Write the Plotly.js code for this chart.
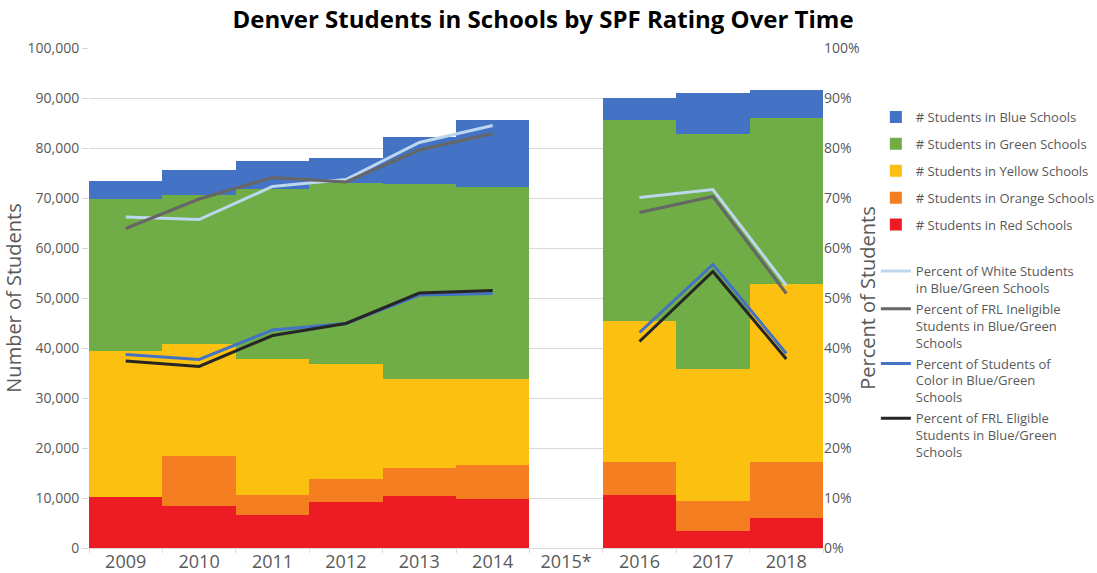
<!DOCTYPE html>
<html><head><meta charset="utf-8">
<script src="https://cdn.plot.ly/plotly-3.0.1.min.js"></script>
<style>html,body{margin:0;padding:0;background:#fff}#chart{width:1097px;height:573px}</style>
</head><body><div id="chart"></div>
<script>
const years = ["2009","2010","2011","2012","2013","2014","2015*","2016","2017","2018"];
const redStudents    = [10300, 8400, 6700, 9300, 10500, 9900, null, 10600, 3400, 6100];
const orangeStudents = [0, 10100, 4000, 4600, 5600, 6700, null, 6600, 6100, 11100];
const yellowStudents = [29200, 22400, 27100, 23000, 17700, 17300, null, 28300, 26400, 35600];
const greenStudents  = [30300, 29800, 34100, 36100, 39000, 38400, null, 40100, 46900, 33300];
const blueStudents   = [3600, 4900, 5600, 5100, 9400, 13300, null, 4500, 8200, 5600];
const pctWhite       = [0.662, 0.657, 0.723, 0.737, 0.811, 0.845, null, 0.701, 0.717, 0.525];
const pctFrlInel     = [0.639, 0.698, 0.741, 0.732, 0.796, 0.829, null, 0.671, 0.703, 0.509];
const pctColor       = [0.387, 0.377, 0.436, 0.449, 0.506, 0.509, null, 0.431, 0.567, 0.389];
const pctFrlElig     = [0.374, 0.363, 0.425, 0.449, 0.510, 0.515, null, 0.413, 0.553, 0.378];

const gray = "#595959";
const font = "'Open Sans', Lato, sans-serif";
function bar(name, y, color, rank){
  return {type:"bar", name:name, x:years, y:y, marker:{color:color, line:{width:0}},
    legend:"legend", legendgroup:name, legendrank:rank, hoverinfo:"y+name"};
}
function line(name, y, color, rank){
  return {type:"scatter", mode:"lines", name:name, x:years, y:y, yaxis:"y2",
    line:{color:color, width:3}, connectgaps:false, legend:"legend2", legendgroup:name, legendrank:rank};
}
const traces = [
  bar("# Students in Red Schools", redStudents, "#ED1C24", 5),
  bar("# Students in Orange Schools", orangeStudents, "#F47E20", 4),
  bar("# Students in Yellow Schools", yellowStudents, "#FCC010", 3),
  bar("# Students in Green Schools", greenStudents, "#70AD47", 2),
  bar("# Students in Blue Schools", blueStudents, "#4472C4", 1),
  line("Percent of White Students<br>in Blue/Green Schools", pctWhite, "#BDD7EE", 1),
  line("Percent of FRL Ineligible<br>Students in Blue/Green<br>Schools", pctFrlInel, "#666666", 2),
  line("Percent of Students of<br>Color in Blue/Green<br>Schools", pctColor, "#4472C4", 3),
  line("Percent of FRL Eligible<br>Students in Blue/Green<br>Schools", pctFrlElig, "#262626", 4)
];
const layout = {
  width:1097, height:573,
  margin:{l:89, r:274, t:48, b:25, autoexpand:false},
  paper_bgcolor:"#fff", plot_bgcolor:"#fff",
  font:{family:font, color:gray},
  title:{text:"<b>Denver Students in Schools by SPF Rating Over Time</b>", font:{family:font, size:24, color:"#000"},
    xref:"container", x:0.495, xanchor:"center", yref:"container", y:0.966, yanchor:"middle"},
  barmode:"stack", bargap:0,
  xaxis:{type:"category", categoryorder:"array", categoryarray:years, range:[-0.5,9.5],
    tickfont:{size:18, color:gray}, ticks:"outside", tickson:"boundaries", ticklen:4, tickcolor:"#d9d9d9",
    ticklabelstandoff:-3,
    showline:true, linecolor:"#d9d9d9", showgrid:false, fixedrange:true},
  yaxis:{range:[0,100000], dtick:10000, tickformat:",", tickfont:{size:14, color:gray},
    ticks:"outside", ticklen:6, tickcolor:"#d9d9d9",
    gridcolor:"#d9d9d9", zeroline:false, showline:false,
    title:{text:"Number of Students", font:{size:20, color:gray}, standoff:4}},
  yaxis2:{overlaying:"y", side:"right", range:[0,1], dtick:0.1, tickformat:".0%",
    tickfont:{size:14, color:gray}, showgrid:false, zeroline:false, showline:false,
    title:{text:"Percent of Students", font:{size:20, color:gray}, standoff:2}},
  legend:{x:1.072, xanchor:"left", y:0.892, yanchor:"top", traceorder:"grouped", tracegroupgap:7,
    font:{size:13, color:gray}, bgcolor:"rgba(0,0,0,0)"},
  legend2:{x:1.072, xanchor:"left", y:0.584, yanchor:"top", traceorder:"grouped", tracegroupgap:1,
    valign:"top", font:{size:13, color:gray}, bgcolor:"rgba(0,0,0,0)"},
  showlegend:true
};
Plotly.newPlot("chart", traces, layout, {displayModeBar:false, staticPlot:true});
</script></body></html>
